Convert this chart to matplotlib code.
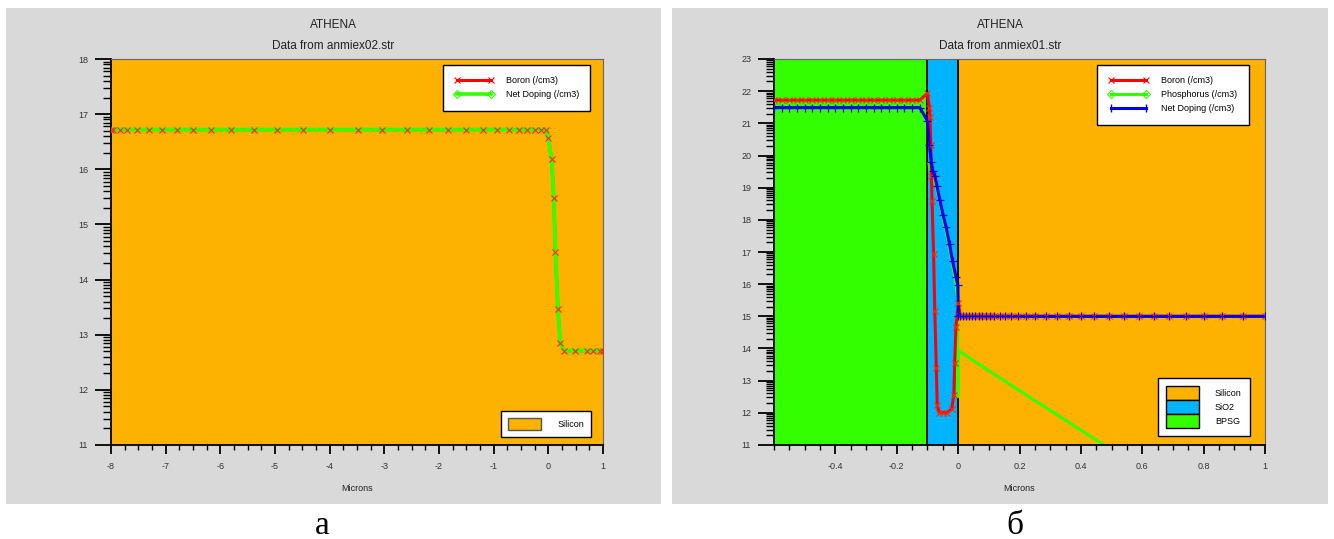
import numpy as np
import matplotlib
matplotlib.use("Agg")
import matplotlib.pyplot as plt
from matplotlib.lines import Line2D
from matplotlib.patches import Patch, Rectangle
from matplotlib.ticker import MultipleLocator, FixedLocator

plt.rcParams['font.family'] = ['Liberation Sans', 'DejaVu Sans']
plt.rcParams['axes.unicode_minus'] = False

# --- panel а: anmiex02.str ---
a_x = [-8.0, -7.96, -7.83, -7.71, -7.52, -7.31, -7.06, -6.80, -6.50, -6.17, -5.80,
       -5.39, -4.97, -4.49, -3.99, -3.49, -3.04, -2.59, -2.19, -1.83, -1.50,
       -1.19, -0.93, -0.72, -0.54, -0.39, -0.25, -0.14, -0.04, 0.0, 0.06,
       0.10, 0.13, 0.175, 0.22, 0.29, 0.49, 0.70, 0.82, 0.94, 1.0]
a_boron = [16.72] * 29 + [16.57, 16.18, 15.48, 14.50, 13.47, 12.85,
                          12.71, 12.71, 12.71, 12.71, 12.71, 12.71]
a_net = a_boron

# --- panel б: anmiex01.str ---
b_boron_x = [-0.6, -0.575, -0.55, -0.525, -0.5, -0.475, -0.45, -0.425, -0.4, -0.375,
             -0.35, -0.325, -0.3, -0.275, -0.25, -0.225, -0.2, -0.175, -0.15, -0.125,
             -0.1, -0.094, -0.092, -0.089, -0.087, -0.085, -0.080, -0.076, -0.071,
             -0.068, -0.062, -0.049, -0.035, -0.021, -0.014, -0.011, -0.007, 0.001,
             0.007, 0.017, 0.026, 0.036, 0.046, 0.055, 0.067, 0.078, 0.090, 0.104,
             0.118, 0.135, 0.153, 0.173, 0.196, 0.222, 0.251, 0.285, 0.322, 0.361,
             0.402, 0.444, 0.493, 0.541, 0.590, 0.638, 0.687, 0.742, 0.800, 0.860,
             0.929, 1.0]
b_boron = [21.72] * 20 + [21.93, 21.49, 21.19, 20.33, 19.37, 18.57, 16.93, 15.16,
                          13.38, 12.23, 12.01, 12.01, 12.01, 12.12, 12.55, 13.56,
                          14.68, 15.43] + [15.0] * 32

b_net_x = [-0.6, -0.575, -0.55, -0.525, -0.5, -0.475, -0.45, -0.425, -0.4, -0.375,
           -0.35, -0.325, -0.3, -0.275, -0.25, -0.225, -0.2, -0.175, -0.15, -0.125,
           -0.1, -0.094, -0.087, -0.083, -0.076, -0.069, -0.060, -0.049, -0.039,
           -0.028, -0.018, -0.007, -0.001, 0.001,
           0.007, 0.017, 0.026, 0.036, 0.046, 0.055, 0.067, 0.078, 0.090, 0.104,
           0.118, 0.135, 0.153, 0.173, 0.196, 0.222, 0.251, 0.285, 0.322, 0.361,
           0.402, 0.444, 0.493, 0.541, 0.590, 0.638, 0.687, 0.742, 0.800, 0.860,
           0.929, 1.0]
b_net = [21.49] * 20 + [21.08, 20.33, 19.80, 19.53, 19.37, 19.05, 18.63, 18.15,
                        17.77, 17.24, 16.71, 16.23, 15.96, 15.0] + [15.0] * 32

b_phos_x = [-0.095, -0.09, -0.08, -0.07, -0.06, -0.05, -0.04, -0.03, -0.02, -0.01,
            -0.002, -0.001, 0.001, 0.03, 0.06, 0.1, 0.15, 0.2, 0.25, 0.3, 0.35,
            0.4, 0.45, 0.5]
b_phos = [19.75, 19.45, 19.28, 18.98, 18.58, 18.08, 17.68, 17.18, 16.68, 16.18,
          15.6, 12.5, 13.93, 13.75, 13.56, 13.31, 13.0, 12.69, 12.38, 12.08, 11.77,
          11.46, 11.15, 10.85]

# material regions (x ranges, microns)
b_regions = [("BPSG", -0.6, -0.1), ("SiO2", -0.1, 0.0), ("Silicon", 0.0, 1.0)]
region_colors = {"Silicon": "#fdb100", "SiO2": "#00b4ff", "BPSG": "#33ff00"}

GRAY = "#d9d9d9"
W, H = 1334, 539

fig = plt.figure(figsize=(W / 100, H / 100), dpi=100)
fig.patch.set_facecolor("white")

# gray panels
for x0, x1 in [(6, 661), (672, 1328)]:
    fig.patches.append(Rectangle((x0 / W, 1 - 504 / H), (x1 - x0) / W, (504 - 8) / H,
                                 transform=fig.transFigure, facecolor=GRAY,
                                 edgecolor="none", zorder=-5))


def style_axes(ax, ymin, ymax):
    ax.set_ylim(ymin, ymax)
    ax.yaxis.set_major_locator(MultipleLocator(1))
    minors = [n + np.log10(k) for n in range(ymin, ymax) for k in range(2, 10)]
    ax.yaxis.set_minor_locator(FixedLocator(minors))
    ax.tick_params(axis="y", which="major", direction="out", length=11.5, width=1.3,
                   labelsize=6.5, pad=5, colors="black")
    ax.tick_params(axis="y", which="minor", direction="out", length=5.5, width=1.0)
    ax.tick_params(axis="x", which="major", direction="out", length=6.5, width=1.3,
                   labelsize=6.5, pad=6)
    ax.tick_params(axis="x", which="minor", direction="out", length=3.5, width=1.0)
    for lbl in ax.get_yticklabels() + ax.get_xticklabels():
        lbl.set_color("#333333")
    for s in ["top", "right"]:
        ax.spines[s].set_color("#666666")
        ax.spines[s].set_linewidth(0.8)
    for s in ["left", "bottom"]:
        ax.spines[s].set_linewidth(1.3)
    ax.set_xlabel("Microns", fontsize=6.5, labelpad=9, color="#222222")


def fmt(v, pos=None):
    return "%g" % v


leg_kw = dict(fontsize=6.5, frameon=True, fancybox=False, edgecolor="black",
              framealpha=1, borderaxespad=0)

# ---------- panel а ----------
ax1 = fig.add_axes([111 / W, 1 - 445 / H, (603 - 111) / W, (445 - 59) / H])
ax1.set_facecolor(region_colors["Silicon"])
ax1.set_xlim(-8, 1)
ax1.xaxis.set_major_locator(MultipleLocator(1))
ax1.xaxis.set_minor_locator(MultipleLocator(0.25))
ax1.xaxis.set_major_formatter(plt.FuncFormatter(fmt))
style_axes(ax1, 11, 18)
ax1.plot(a_x, a_boron, color="#ff0000", lw=2.2, zorder=3)
ax1.plot(a_x, a_net, color="#33ff00", lw=2.8, zorder=4)
ax1.plot(a_x, a_boron, ls="none", marker="x", ms=4, mew=0.8, color="#ff2a00",
         zorder=5)

h1 = [Line2D([0, 1], [0, 0], color="#ff0000", lw=2.2, marker="x", ms=5, mew=0.8),
      Line2D([0, 1], [0, 0], color="#33ff00", lw=2.6, marker="D", ms=4, mew=0.8,
             mfc="none")]
leg1 = ax1.legend(h1, ["Boron (/cm3)", "Net Doping (/cm3)"], loc="upper right",
                  bbox_to_anchor=(0.974, 0.984), numpoints=2,
                  handlelength=4.3, handletextpad=1.35, borderpad=1.25,
                  labelspacing=0.55, **leg_kw)
leg1.get_frame().set_linewidth(1.0)
ax1.add_artist(leg1)
leg1b = ax1.legend([Patch(facecolor=region_colors["Silicon"], edgecolor="#555555")],
                   ["Silicon"], loc="lower right", bbox_to_anchor=(0.976, 0.021),
                   handlelength=3.6, handleheight=1.6, handletextpad=1.8,
                   borderpad=0.8, **leg_kw)
leg1b.get_frame().set_linewidth(1.0)

fig.text(333 / W, 1 - 25 / H, "ATHENA", ha="center", va="center", fontsize=8.5,
         color="#222222")
fig.text(333 / W, 1 - 46 / H, "Data from anmiex02.str", ha="center", va="center",
         fontsize=8.5, color="#222222")
fig.text(322 / W, 1 - 526 / H, "а", ha="center", va="center", fontsize=24,
         family="Liberation Serif")

# ---------- panel б ----------
ax2 = fig.add_axes([774 / W, 1 - 445 / H, (1265 - 774) / W, (445 - 59) / H])
ax2.set_xlim(-0.6, 1)
ax2.xaxis.set_major_locator(FixedLocator([-0.4, -0.2, 0, 0.2, 0.4, 0.6, 0.8, 1.0]))
ax2.xaxis.set_minor_locator(MultipleLocator(0.05))
ax2.xaxis.set_major_formatter(plt.FuncFormatter(fmt))
style_axes(ax2, 11, 23)
for name, x0, x1 in b_regions:
    ax2.axvspan(x0, x1, color=region_colors[name], zorder=0, lw=0)
for xb in [-0.1, 0.0]:
    ax2.axvline(xb, color="black", lw=1.3, zorder=1)

ax2.plot(b_boron_x, b_boron, color="#ff0000", lw=2.2, zorder=3)
ax2.plot(b_phos_x, b_phos, color="#33ff00", lw=2.2, zorder=2)
ax2.plot(b_net_x, b_net, color="#0000ee", lw=2.2, zorder=4)
ax2.plot(b_boron_x, b_boron, ls="none", marker="x", ms=4, mew=0.8, color="#ff2a00",
         zorder=5)
ax2.plot(b_net_x, b_net, ls="none", marker="+", ms=6, mew=0.9, color="#0000ee",
         zorder=6)

h2 = [Line2D([0, 1], [0, 0], color="#ff0000", lw=2.2, marker="x", ms=5, mew=0.8),
      Line2D([0, 1], [0, 0], color="#33ff00", lw=2.2, marker="D", ms=4, mew=0.8,
             mfc="none"),
      Line2D([0, 1], [0, 0], color="#0000ee", lw=2.2, marker="|", ms=6, mew=1.0)]
leg2 = ax2.legend(h2, ["Boron (/cm3)", "Phosphorus (/cm3)", "Net Doping (/cm3)"],
                  loc="upper right", bbox_to_anchor=(0.967, 0.984), numpoints=2,
                  handlelength=4.5, handletextpad=1.35, borderpad=1.25,
                  labelspacing=0.55, **leg_kw)
leg2.get_frame().set_linewidth(1.0)
ax2.add_artist(leg2)
mat_names = ["Silicon", "SiO2", "BPSG"]
leg2b = ax2.legend([Patch(facecolor=region_colors[n], edgecolor="black")
                    for n in mat_names], mat_names, loc="lower right",
                   bbox_to_anchor=(0.969, 0.023), handlelength=3.6,
                   handleheight=2.0, handletextpad=1.8, borderpad=0.9,
                   labelspacing=0.0, **leg_kw)
leg2b.get_frame().set_linewidth(1.0)

fig.text(1000 / W, 1 - 25 / H, "ATHENA", ha="center", va="center", fontsize=8.5,
         color="#222222")
fig.text(1000 / W, 1 - 46 / H, "Data from anmiex01.str", ha="center", va="center",
         fontsize=8.5, color="#222222")
fig.text(1015 / W, 1 - 526 / H, "б", ha="center", va="center", fontsize=24,
         family="Liberation Serif")

fig.savefig("out.png", dpi=100, facecolor="white")
